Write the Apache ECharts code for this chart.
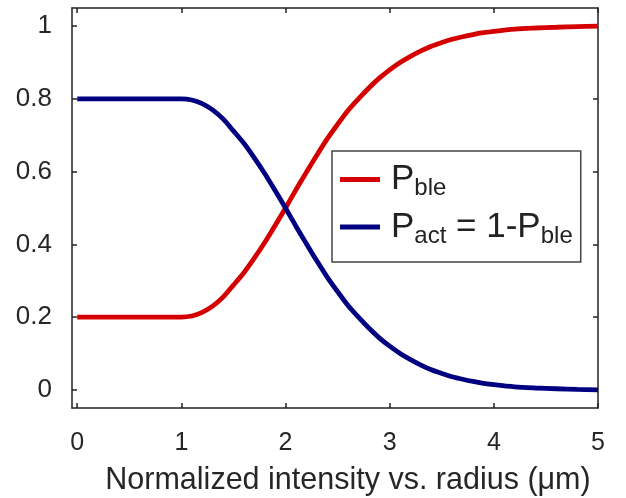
<!DOCTYPE html>
<html>
<head>
<meta charset="utf-8">
<script src="https://cdn.jsdelivr.net/npm/echarts@6/dist/echarts.min.js"></script>
<style>
html,body{margin:0;padding:0;background:#fff;}
#chart{width:626px;height:498px;}
</style>
</head>
<body>
<div id="chart"></div>
<script>
// Data
var xValues = [0, 1.0, 1.1, 1.2, 1.3, 1.4, 1.5, 1.6, 1.7, 1.8, 1.9, 2.0, 2.1, 2.2, 2.3, 2.4, 2.5, 2.6, 2.7, 2.8, 2.9, 3.0, 3.1, 3.2, 3.3, 3.4, 3.5, 3.6, 3.7, 3.8, 3.9, 4.0, 4.2, 4.4, 4.6, 4.8, 5.0];
var pBle = [0.2, 0.2, 0.203, 0.213, 0.23, 0.255, 0.288, 0.322, 0.362, 0.405, 0.452, 0.5, 0.55, 0.598, 0.645, 0.69, 0.73, 0.768, 0.8, 0.83, 0.857, 0.88, 0.9, 0.917, 0.932, 0.945, 0.955, 0.964, 0.971, 0.977, 0.982, 0.986, 0.992, 0.995, 0.997, 0.999, 1.0];
var pAct = [0.8, 0.8, 0.797, 0.787, 0.77, 0.745, 0.712, 0.678, 0.638, 0.595, 0.548, 0.5, 0.45, 0.402, 0.355, 0.31, 0.27, 0.232, 0.2, 0.17, 0.143, 0.12, 0.1, 0.083, 0.068, 0.055, 0.045, 0.036, 0.029, 0.023, 0.018, 0.014, 0.008, 0.005, 0.003, 0.001, 0.0];
var xTicks = [0, 1, 2, 3, 4, 5];
var yTicks = [0, 0.2, 0.4, 0.6, 0.8, 1];
var seriesNames = ['P_ble', 'P_act'];
var xTitle = 'Normalized intensity vs. radius (\u03bcm)';

function pairs(xs, ys) { return xs.map(function (x, i) { return [x, ys[i]]; }); }

var font = '"Liberation Sans", Arial, Helvetica, sans-serif';
var axisColor = '#222';
var chart = echarts.init(document.getElementById('chart'), null, {renderer: 'canvas'});

function xAxisDef(pos, showLabels) {
  return {
    type: 'value', position: pos, min: -0.05, max: 5,
    splitLine: {show: false},
    axisLine: {show: true, onZero: false, lineStyle: {color: axisColor, width: 1.5}},
    axisTick: {show: true, inside: true, length: 5, customValues: xTicks, lineStyle: {color: axisColor, width: 1.5}},
    axisLabel: {show: showLabels, customValues: xTicks, margin: 23, fontSize: 25, color: '#262626', fontFamily: font},
    name: showLabels ? xTitle : '',
    nameLocation: 'middle', nameGap: 57,
    nameTextStyle: {fontSize: 30.5, color: '#262626', fontFamily: font, padding: [0, 0, 0, 26]}
  };
}
function yAxisDef(pos, showLabels) {
  return {
    type: 'value', position: pos, min: -0.05, max: 1.05,
    splitLine: {show: false},
    axisLine: {show: true, onZero: false, lineStyle: {color: axisColor, width: 1.5}},
    axisTick: {show: true, inside: true, length: 5, customValues: yTicks, lineStyle: {color: axisColor, width: 1.5}},
    axisLabel: {show: showLabels, customValues: yTicks, margin: 20, fontSize: 26, color: '#262626', fontFamily: font}
  };
}

var option = {
  backgroundColor: '#ffffff',
  animation: false,
  grid: {left: 72, top: 8, right: 28, bottom: 90, containLabel: false, outerBoundsMode: 'none'},
  xAxis: [xAxisDef('bottom', true), xAxisDef('top', false)],
  yAxis: [yAxisDef('left', true), yAxisDef('right', false)],
  legend: {
    left: 332, top: 151, orient: 'vertical',
    padding: [11, 8, 14, 8], itemGap: 9,
    borderColor: '#444', borderWidth: 1.5, backgroundColor: '#fff',
    icon: 'rect', itemWidth: 40, itemHeight: 5,
    data: seriesNames,
    formatter: function (name) {
      if (name === 'P_ble') return '{g|}{m|P}{s|ble}';
      return '{g|}{m|P}{s|act}{m| = 1-P}{s|ble}';
    },
    textStyle: {
      fontFamily: font, color: '#222',
      rich: {
        g: {width: 6, lineHeight: 42},
        m: {fontSize: 35, fontFamily: font, color: '#222', lineHeight: 42, verticalAlign: 'middle'},
        s: {fontSize: 24, fontFamily: font, color: '#222', lineHeight: 14, verticalAlign: 'bottom'}
      }
    }
  },
  series: [
    {name: 'P_ble', type: 'line', xAxisIndex: 0, yAxisIndex: 0, data: pairs(xValues, pBle),
     showSymbol: false, symbol: 'none', smooth: 0.3, lineStyle: {color: '#d40000', width: 4.8}, itemStyle: {color: '#d40000'}, z: 3},
    {name: 'P_act', type: 'line', xAxisIndex: 0, yAxisIndex: 0, data: pairs(xValues, pAct),
     showSymbol: false, symbol: 'none', smooth: 0.3, lineStyle: {color: '#000080', width: 4.8}, itemStyle: {color: '#000080'}, z: 4}
  ]
};
chart.setOption(option);
</script>
</body>
</html>
